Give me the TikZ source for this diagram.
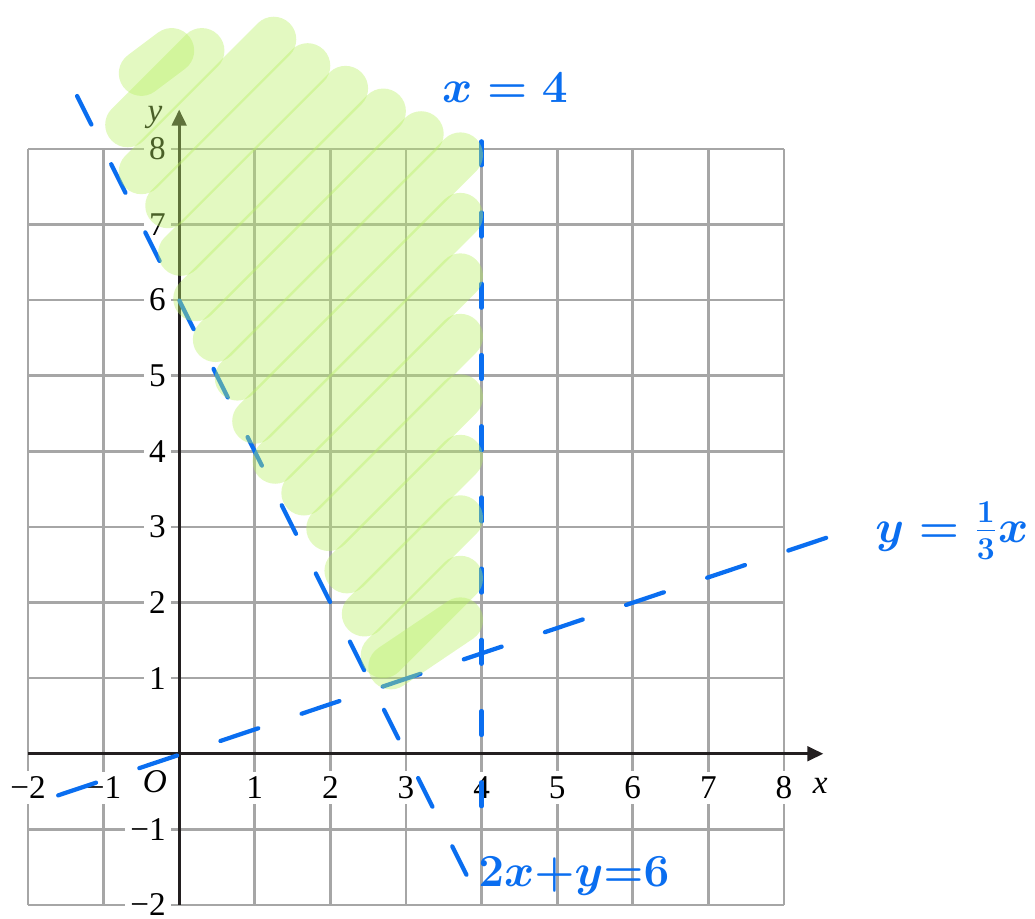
\documentclass[tikz,border=0pt]{standalone}
\usepackage{fontspec}
\setmainfont{Liberation Serif}
\usetikzlibrary{arrows.meta}
\definecolor{gridgrey}{RGB}{166,166,166}
\definecolor{axisblack}{RGB}{35,31,32}
\definecolor{penblue}{RGB}{10,110,240}
\definecolor{highlight}{RGB}{185,240,100}
\begin{document}
\begin{tikzpicture}[
    gridline/.style={draw=gridgrey, line width=1pt},
    axis/.style={draw=axisblack, line width=1pt, -{Triangle[length=6pt, width=5.5pt]}},
    tick/.style={fill=white, inner sep=2pt, font=\fontsize{12.5}{14}\selectfont},
    pen/.style={draw=penblue, line width=1.6pt, line cap=round},
    pentext/.style={text=penblue, inner sep=0pt, font=\fontsize{17}{20}\selectfont\boldmath},
    scribble/.style={draw=highlight, line width=17pt, line cap=round, line join=round, draw opacity=0.4}
]
\useasboundingbox (-2.37,-2.185) rectangle (11.32,9.97);

% grid
\foreach \i in {-2,...,8} {
  \draw[gridline] (\i,-2) -- (\i,8);
  \draw[gridline] (-2,\i) -- (8,\i);
}

% axes
\coordinate (xstart) at (-2,0);
\coordinate (xend) at (8.52,0);
\coordinate (ystart) at (0,-2);
\coordinate (yend) at (0,8.52);
\draw[axis] (xstart) -- (xend);
\draw[axis] (ystart) -- (yend);

\foreach \i/\t/\n in {-2/−2/m2, -1/−1/m1, 1/1/1, 2/2/2, 3/3/3, 4/4/4, 5/5/5, 6/6/6, 7/7/7, 8/8/8} {
  \node[tick] (xt\n) at (\i,-0.45) {\t};
  \node[tick, anchor=east] (yt\n) at (-0.1,\i) {\t};
}
\node[tick, fill=none] (origin) at (-0.32,-0.37) {\textit{O}};
\node[tick, fill=none] (xlab) at (8.48,-0.42) {\textit{x}};
\node[tick, fill=none] (ylab) at (-0.32,8.42) {\textit{y}};

% boundary lines
\coordinate (ca) at (-1.35,8.7);
\coordinate (cb) at (3.8,-1.6);
\coordinate (va) at (4,8.1);
\coordinate (vb) at (4,-0.7);
\coordinate (ta) at (-1.6,-0.55);
\coordinate (tb) at (8.6,2.87);
\draw[pen, dash pattern=on 12pt off 16.7pt] (ca) -- (cb);
\draw[pen, dash pattern=on 9pt off 17.8pt] (va) -- (vb);
\draw[pen, dash pattern=on 15pt off 17.2pt] (ta) -- (tb);

\node[pentext] (vlab) at (4.31,8.81) {$x=4$};
\node[pentext] (tlab) at (10.22,2.95) {$y=\frac{1}{3}x$};
\node[pentext] (clab) at (5.22,-1.62) {$2x{+}y{=}6$};

% shaded region
\draw[scribble] (2.8,1.15) -- (3.72,1.77);
\draw[scribble] (2.7,1.3) -- (3.72,2.32);
\draw[scribble] (2.45,1.85) -- (3.72,3.12);
\draw[scribble] (2.22,2.42) -- (3.72,3.92);
\draw[scribble] (1.98,2.98) -- (3.72,4.72);
\draw[scribble] (1.65,3.45) -- (3.72,5.52);
\draw[scribble] (1.27,3.87) -- (3.72,6.32);
\draw[scribble] (1.0,4.4) -- (3.72,7.12);
\draw[scribble] (0.77,4.97) -- (3.72,7.92);
\draw[scribble] (0.48,5.48) -- (3.2,8.2);
\draw[scribble] (0.22,6.02) -- (2.7,8.5);
\draw[scribble] (0.02,6.62) -- (2.2,8.8);
\draw[scribble] (-0.15,7.25) -- (1.7,9.1);
\draw[scribble] (-0.5,7.7) -- (1.25,9.45);
\draw[scribble] (-0.68,8.32) -- (0.3,9.3);
\draw[scribble] (-0.5,9.0) -- (-0.1,9.3);
\end{tikzpicture}
\end{document}
